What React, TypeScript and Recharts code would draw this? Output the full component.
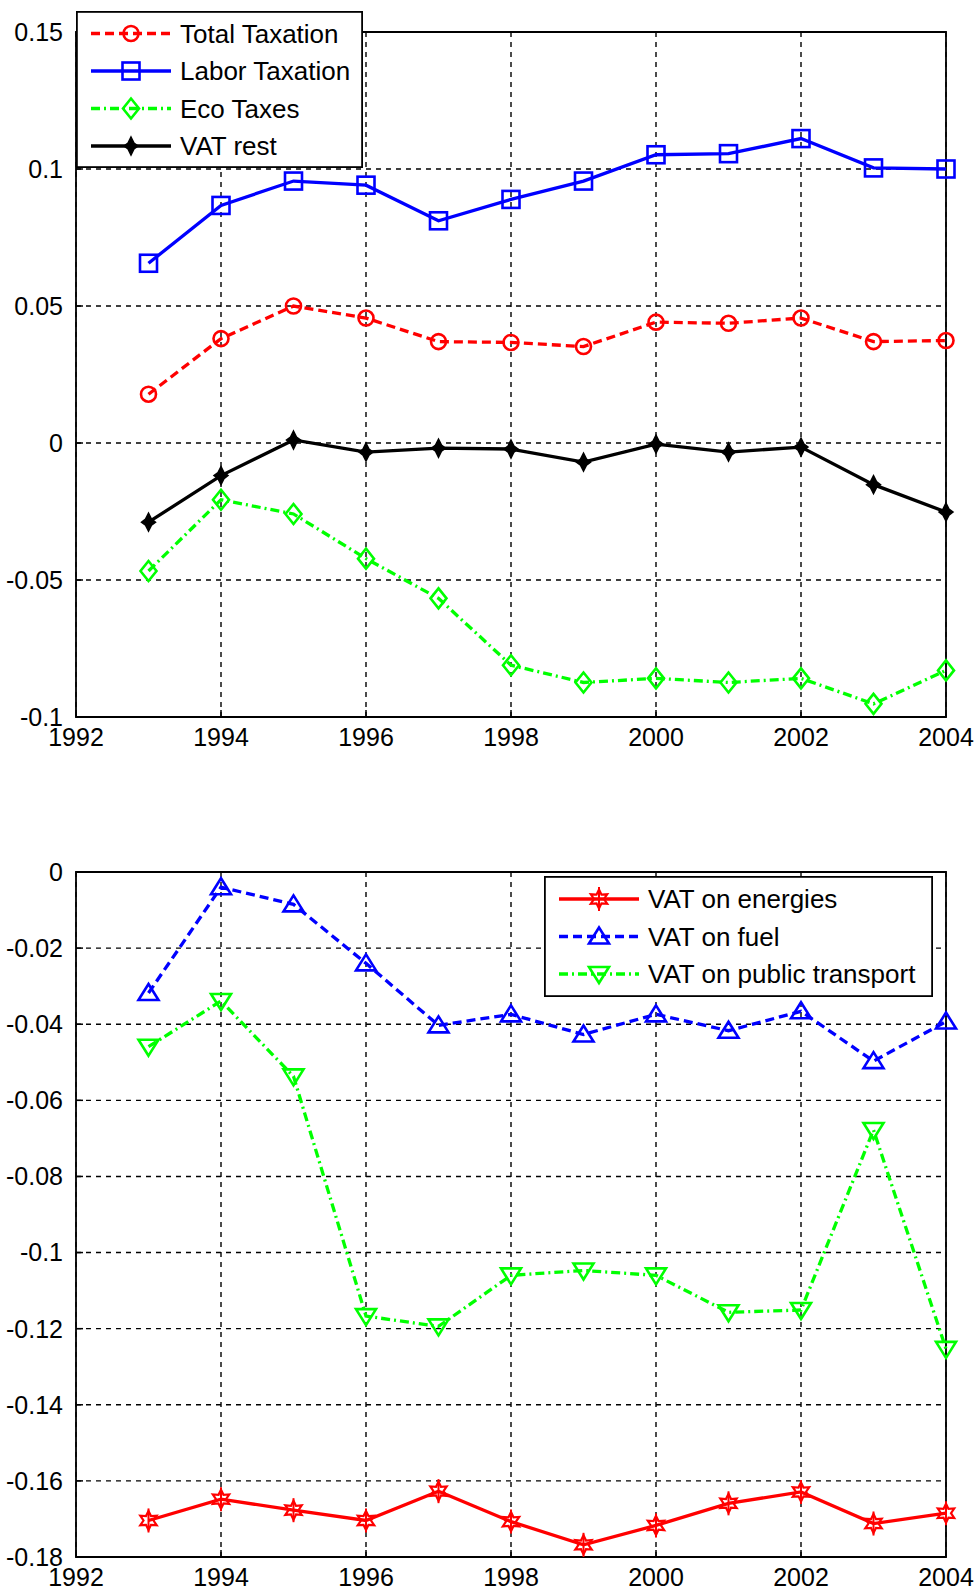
import React from 'react';
import { LineChart, Line, XAxis, YAxis, CartesianGrid, ReferenceArea } from 'recharts';

// years on the x axis
const years = [1993, 1994, 1995, 1996, 1997, 1998, 1999, 2000, 2001, 2002, 2003, 2004];
const xTicks = [1992, 1994, 1996, 1998, 2000, 2002, 2004];

// upper panel
const totalTaxation = [0.0178, 0.0381, 0.0500, 0.0456, 0.0370, 0.0367, 0.0352, 0.0441, 0.0437, 0.0456, 0.0370, 0.0374];
const laborTaxation = [0.0656, 0.0867, 0.0956, 0.0941, 0.0811, 0.0889, 0.0956, 0.1052, 0.1056, 0.1111, 0.1004, 0.1000];
const ecoTaxes = [-0.0467, -0.0207, -0.0259, -0.0422, -0.0567, -0.0811, -0.0874, -0.0859, -0.0874, -0.0859, -0.0952, -0.0830];
const vatRest = [-0.0289, -0.0119, 0.0011, -0.0033, -0.0019, -0.0022, -0.0070, -0.0004, -0.0033, -0.0015, -0.0152, -0.0252];
const topTicks = [-0.1, -0.05, 0, 0.05, 0.1, 0.15];

// lower panel
const vatEnergies = [-0.1704, -0.1648, -0.1677, -0.1704, -0.1627, -0.1707, -0.1768, -0.1717, -0.1659, -0.1629, -0.1712, -0.1685];
const vatFuel = [-0.0318, -0.0040, -0.0085, -0.0240, -0.0403, -0.0374, -0.0427, -0.0374, -0.0417, -0.0366, -0.0497, -0.0393];
const vatPublic = [-0.0459, -0.0339, -0.0537, -0.1167, -0.1194, -0.1060, -0.1047, -0.1060, -0.1157, -0.1151, -0.0678, -0.1253];
const bottomTicks = [-0.18, -0.16, -0.14, -0.12, -0.1, -0.08, -0.06, -0.04, -0.02, 0];

const topData = years.map((year, i) => ({
  year,
  total: totalTaxation[i],
  labor: laborTaxation[i],
  eco: ecoTaxes[i],
  vat: vatRest[i],
}));

const bottomData = years.map((year, i) => ({
  year,
  energies: vatEnergies[i],
  fuel: vatFuel[i],
  pub: vatPublic[i],
}));

const RED = '#ff0000';
const BLUE = '#0000ff';
const GREEN = '#00ff00';
const BLACK = '#000000';
const DASH = '9 5';
const DASHDOT = '9 4 2 4';
const SW = 3.3;

const font = "'Liberation Sans', Arial, sans-serif";

type Kind = 'circle' | 'square' | 'diamond' | 'star' | 'tri-up' | 'tri-down' | 'hexagram';

function drawMarker(kind: Kind, cx: number, cy: number, color: string, key?: any) {
  switch (kind) {
    case 'circle':
      return <circle key={key} cx={cx} cy={cy} r={7.5} fill="none" stroke={color} strokeWidth={2.6} />;
    case 'square':
      return <rect key={key} x={cx - 8.5} y={cy - 8.5} width={17} height={17} fill="none" stroke={color} strokeWidth={2.6} />;
    case 'diamond':
      return (
        <polygon key={key} points={`${cx},${cy - 10} ${cx + 8},${cy} ${cx},${cy + 10} ${cx - 8},${cy}`}
          fill="none" stroke={color} strokeWidth={2.6} />
      );
    case 'star':
      return (
        <polygon key={key}
          points={`${cx},${cy - 9} ${cx + 3},${cy - 3} ${cx + 7},${cy} ${cx + 3},${cy + 3} ${cx},${cy + 9} ${cx - 3},${cy + 3} ${cx - 7},${cy} ${cx - 3},${cy - 3}`}
          fill={color} stroke={color} strokeWidth={1.5} />
      );
    case 'tri-up':
      return (
        <polygon key={key} points={`${cx},${cy - 9} ${cx + 10},${cy + 7} ${cx - 10},${cy + 7}`}
          fill="none" stroke={color} strokeWidth={2.6} />
      );
    case 'tri-down':
      return (
        <polygon key={key} points={`${cx},${cy + 9} ${cx + 10},${cy - 7} ${cx - 10},${cy - 7}`}
          fill="none" stroke={color} strokeWidth={2.6} />
      );
    case 'hexagram': {
      const pts: string[] = [];
      for (let k = 0; k < 12; k++) {
        const r = k % 2 === 0 ? 9.5 : 5;
        const a = (-90 + k * 30) * Math.PI / 180;
        pts.push(`${(cx + r * Math.cos(a)).toFixed(1)},${(cy + r * Math.sin(a)).toFixed(1)}`);
      }
      return (
        <g key={key}>
          <polygon points={pts.join(' ')} fill="none" stroke={color} strokeWidth={2.2} />
          <line x1={cx} y1={cy - 12} x2={cx} y2={cy + 12} stroke={color} strokeWidth={2} />
        </g>
      );
    }
  }
  return null;
}

const dotOf = (kind: Kind, color: string) => (p: any) => drawMarker(kind, p.cx, p.cy, color, `${kind}-${p.index}`);

interface LegendItem {
  label: string;
  color: string;
  dash?: string;
  kind: Kind;
}

const topLegend: LegendItem[] = [
  { label: 'Total Taxation', color: RED, dash: DASH, kind: 'circle' },
  { label: 'Labor Taxation', color: BLUE, kind: 'square' },
  { label: 'Eco Taxes', color: GREEN, dash: DASHDOT, kind: 'diamond' },
  { label: 'VAT rest', color: BLACK, kind: 'star' },
];

const bottomLegend: LegendItem[] = [
  { label: 'VAT on energies', color: RED, kind: 'hexagram' },
  { label: 'VAT on fuel', color: BLUE, dash: DASH, kind: 'tri-up' },
  { label: 'VAT on public transport', color: GREEN, dash: DASHDOT, kind: 'tri-down' },
];

const LegendBox = ({ items, left, top, width, height, rowStep, firstRow }: {
  items: LegendItem[]; left: number; top: number; width: number; height: number; rowStep: number; firstRow: number;
}) => (
  <svg style={{ position: 'absolute', left, top }} width={width} height={height}>
    <rect x={0.9} y={0.9} width={width - 1.8} height={height - 1.8} fill="#fff" stroke="#000" strokeWidth={1.8} />
    {items.map((it, i) => {
      const y = firstRow + i * rowStep;
      return (
        <g key={it.label}>
          <line x1={15} x2={95} y1={y} y2={y} stroke={it.color} strokeWidth={SW} strokeDasharray={it.dash} />
          {drawMarker(it.kind, 55, y, it.color)}
          <text x={104} y={y} dy="0.36em" fontFamily={font} fontSize={26} fill="#000">{it.label}</text>
        </g>
      );
    })}
  </svg>
);

const axisTick = { fontSize: 25, fill: '#000', fontFamily: font };
const tickStroke = { stroke: '#000', strokeWidth: 1.5 };
const fmt = (v: number) => String(v);

// one panel: MATLAB-like boxed axes with inward ticks on all four sides
const Panel = ({ data, height, bottom, domain, yTicks, children }: any) => (
  <LineChart width={976} height={height} data={data} margin={{ top: 32, right: 30, bottom, left: 0 }}>
    <CartesianGrid stroke="#000" strokeWidth={1.4} strokeDasharray="5 5" />
    <XAxis type="number" dataKey="year" domain={[1992, 2004]} ticks={xTicks} axisLine={false}
      tickLine={tickStroke} tickSize={-7} tickMargin={18} height={30} tick={axisTick} interval={0} />
    <XAxis xAxisId="top" orientation="top" type="number" dataKey="year" domain={[1992, 2004]} ticks={xTicks}
      axisLine={false} tickLine={tickStroke} tickSize={-7} height={0} tick={false} interval={0} />
    <YAxis type="number" domain={domain} ticks={yTicks} axisLine={false} tickLine={tickStroke}
      tickSize={-7} tickMargin={20} width={76} tick={axisTick} tickFormatter={fmt} interval={0} />
    <YAxis yAxisId="right" orientation="right" type="number" domain={domain} ticks={yTicks} axisLine={false}
      tickLine={tickStroke} tickSize={-7} width={0} tick={false} interval={0} />
    <ReferenceArea x1={1992} x2={2004} y1={domain[0]} y2={domain[1]} fill="none" stroke="#000" strokeWidth={1.8} />
    {children}
  </LineChart>
);

export default function App() {
  return (
    <div style={{ position: 'relative', width: 976, height: 1593, background: '#fff', overflow: 'hidden' }}>
      <style>{'body{margin:0;overflow:hidden;background:#fff}'}</style>

      <div style={{ position: 'absolute', left: 0, top: 0 }}>
        <Panel data={topData} height={760} bottom={13} domain={[-0.1, 0.15]} yTicks={topTicks}>
          <Line dataKey="labor" stroke={BLUE} strokeWidth={SW} dot={dotOf('square', BLUE)} isAnimationActive={false} />
          <Line dataKey="total" stroke={RED} strokeWidth={SW} strokeDasharray={DASH} dot={dotOf('circle', RED)} isAnimationActive={false} />
          <Line dataKey="vat" stroke={BLACK} strokeWidth={SW} dot={dotOf('star', BLACK)} isAnimationActive={false} />
          <Line dataKey="eco" stroke={GREEN} strokeWidth={SW} strokeDasharray={DASHDOT} dot={dotOf('diamond', GREEN)} isAnimationActive={false} />
        </Panel>
      </div>
      <LegendBox items={topLegend} left={76} top={11} width={287} height={157} firstRow={22.5} rowStep={37.5} />

      <div style={{ position: 'absolute', left: 0, top: 840 }}>
        <Panel data={bottomData} height={753} bottom={6} domain={[-0.18, 0]} yTicks={bottomTicks}>
          <Line dataKey="energies" stroke={RED} strokeWidth={SW} dot={dotOf('hexagram', RED)} isAnimationActive={false} />
          <Line dataKey="fuel" stroke={BLUE} strokeWidth={SW} strokeDasharray={DASH} dot={dotOf('tri-up', BLUE)} isAnimationActive={false} />
          <Line dataKey="pub" stroke={GREEN} strokeWidth={SW} strokeDasharray={DASHDOT} dot={dotOf('tri-down', GREEN)} isAnimationActive={false} />
        </Panel>
      </div>
      <LegendBox items={bottomLegend} left={544} top={876} width={389} height={121} firstRow={23} rowStep={37.5} />
    </div>
  );
}
